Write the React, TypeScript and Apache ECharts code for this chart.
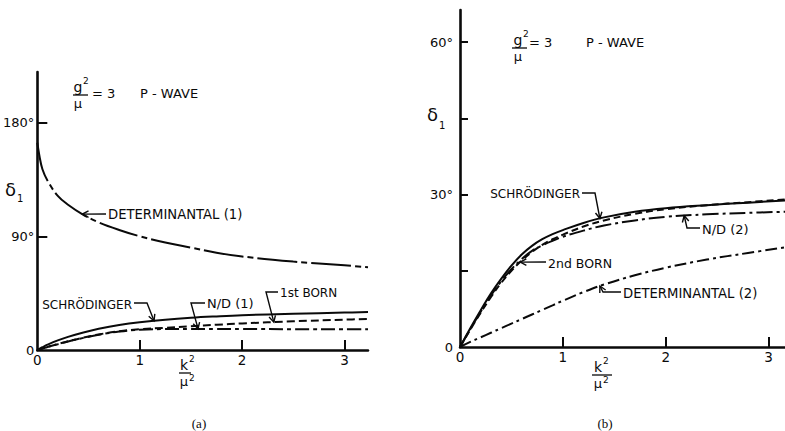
import React, { useEffect, useRef } from "react";
import * as echarts from "echarts";

// ---- Panel (a): g²/μ = 3, P-wave phase shift δ1 vs k²/μ² ----
const K_A = [0, 0.02, 0.05, 0.1, 0.2, 0.3, 0.45, 0.6, 0.8, 1.0, 1.25, 1.5, 1.75, 2.0, 2.5, 3.0, 3.23];
const DET1 = [164, 154, 143, 134, 122, 115, 107, 101, 95, 90, 85, 81, 77, 74, 70, 67, 65.5];
const SCHR_A = [0, 0.9, 2.2, 4.2, 7.6, 10.4, 13.9, 16.8, 19.8, 22.0, 24.0, 25.5, 26.6, 27.5, 28.7, 29.6, 30.0];
const BORN1 = [0, 0.5, 1.2, 2.4, 4.7, 6.9, 9.8, 12.3, 14.9, 16.4, 17.6, 18.8, 20.0, 21.0, 22.7, 24.0, 24.6];
const ND1 = [0, 0.5, 1.2, 2.4, 4.6, 6.8, 9.6, 12.1, 14.6, 16.0, 16.6, 16.7, 16.7, 16.6, 16.5, 16.4, 16.4];

// ---- Panel (b) ----
const K_B = [0, 0.1, 0.2, 0.3, 0.4, 0.5, 0.6, 0.7, 0.8, 0.9, 1.0, 1.2, 1.4, 1.7, 2.0, 2.4, 2.8, 3.16];
const SCHR_B = [0, 3.7, 7.2, 10.5, 13.4, 16.0, 18.2, 19.9, 21.2, 22.2, 23.0, 24.4, 25.5, 26.6, 27.3, 27.9, 28.4, 28.8];
const BORN2 = [0, 3.4, 6.7, 9.8, 12.6, 15.0, 17.0, 18.7, 20.1, 21.2, 22.1, 23.7, 24.9, 26.2, 27.1, 27.9, 28.5, 29.0];
const ND2 = [0, 3.5, 6.9, 10.1, 12.9, 15.3, 17.3, 18.9, 20.0, 20.9, 21.7, 22.9, 23.9, 24.9, 25.6, 26.1, 26.4, 26.6];
const DET2 = [0, 1.0, 1.9, 2.8, 3.7, 4.6, 5.5, 6.4, 7.3, 8.2, 9.1, 10.8, 12.3, 14.1, 15.6, 17.2, 18.5, 19.6];

// ---- Axis ticks and labels ----
const X_TICKS = [1, 2, 3];
const X_LABELS = [0, 1, 2, 3];
const Y_TICKS_A = [90, 180];
const Y_LABELS_A = [0, 90, 180];
const Y_TICKS_B = [15, 30, 45, 60];
const Y_LABELS_B = [0, 30, 60];

const INK = "#0a0a0a";
const FONT = "DejaVu Sans";

const pairs = (ks: number[], vs: number[]) => ks.map((k, i) => [k, vs[i]]);

const valueAt = (ks: number[], vs: number[], k: number) => {
  for (let i = 1; i < ks.length; i++) {
    if (k <= ks[i]) {
      const t = (k - ks[i - 1]) / (ks[i] - ks[i - 1]);
      return vs[i - 1] + t * (vs[i] - vs[i - 1]);
    }
  }
  return vs[vs.length - 1];
};

type Note = {
  grid: number;
  text: string;
  size: number;
  tx: number;
  ty: number;
  align: "left" | "right";
  path: number[][];
  tipK: number;
  ks: number[];
  vs: number[];
};

const NOTES: Note[] = [
  { grid: 0, text: "DETERMINANTAL (1)", size: 13.2, tx: 108, ty: 214, align: "left", path: [[106, 214]], tipK: 0.44, ks: K_A, vs: DET1 },
  { grid: 0, text: "SCHRÖDINGER", size: 12, tx: 132, ty: 305, align: "right", path: [[134, 303], [147, 303]], tipK: 1.14, ks: K_A, vs: SCHR_A },
  { grid: 0, text: "N/D (1)", size: 13, tx: 207, ty: 303, align: "left", path: [[205, 303], [191, 303]], tipK: 1.57, ks: K_A, vs: ND1 },
  { grid: 0, text: "1st BORN", size: 12, tx: 280, ty: 293, align: "left", path: [[278, 292], [266, 292]], tipK: 2.31, ks: K_A, vs: BORN1 },
  { grid: 1, text: "SCHRÖDINGER", size: 12, tx: 580, ty: 194, align: "right", path: [[582, 193], [595, 193]], tipK: 1.36, ks: K_B, vs: SCHR_B },
  { grid: 1, text: "N/D (2)", size: 13, tx: 702, ty: 229, align: "left", path: [[700, 228], [687, 228]], tipK: 2.18, ks: K_B, vs: ND2 },
  { grid: 1, text: "2nd BORN", size: 12.5, tx: 548, ty: 263, align: "left", path: [[546, 262]], tipK: 0.585, ks: K_B, vs: BORN2 },
  { grid: 1, text: "DETERMINANTAL (2)", size: 13.2, tx: 623, ty: 293, align: "left", path: [[621, 292], [603, 292]], tipK: 1.36, ks: K_B, vs: DET2 },
];

const txt = (text: string, x: number, y: number, size: number, align = "left", family = FONT) => ({
  type: "text",
  x,
  y,
  silent: true,
  style: { text, fill: INK, fontSize: size, fontFamily: family, textAlign: align, textVerticalAlign: "middle" },
});

const seg = (pts: number[][], w = 1.4) => ({
  type: "polyline",
  silent: true,
  shape: { points: pts },
  style: { stroke: INK, lineWidth: w, fill: "none" },
});

// Fraction-style labels: numerator with superscript, bar, denominator
const fraction = (cx: number, y: number, top: string, topSup: string, bottom: string, bottomSup: string, barL: number, barR: number) => {
  const out: any[] = [
    txt(top, cx, y, 14, "center"),
    txt(topSup, cx + 5, y - 6, 9, "left"),
    seg([[barL, y + 8], [barR, y + 8]], 1.3),
    txt(bottom, cx, y + 16, 13, "center"),
  ];
  if (bottomSup) out.push(txt(bottomSup, cx + 5, y + 13, 9, "left"));
  return out;
};

const xAxisCfg = (gridIndex: number, max: number) => ({
  gridIndex,
  type: "value",
  min: 0,
  max,
  axisLine: { onZero: false, lineStyle: { color: INK, width: 2.5 } },
  axisTick: { inside: true, length: 10, customValues: X_TICKS, lineStyle: { color: INK, width: 2 } },
  axisLabel: { customValues: X_LABELS, margin: 3, color: INK, fontSize: 13.5, fontFamily: FONT },
  splitLine: { show: false },
});

const yAxisCfg = (gridIndex: number, max: number, ticks: number[], labels: number[], margin: number, tickLen: number) => ({
  gridIndex,
  type: "value",
  min: 0,
  max,
  axisLine: { onZero: false, lineStyle: { color: INK, width: 2.6 } },
  axisTick: { inside: true, length: tickLen, customValues: ticks, lineStyle: { color: INK, width: 2 } },
  axisLabel: {
    customValues: labels,
    margin,
    color: INK,
    fontSize: 13,
    fontFamily: FONT,
    formatter: (v: number) => (v === 0 ? "0" : `${v}°`),
  },
  splitLine: { show: false },
});

const line = (name: string, axis: number, data: number[][], type: any) => ({
  name,
  type: "line",
  xAxisIndex: axis,
  yAxisIndex: axis,
  data,
  showSymbol: false,
  symbol: "none",
  smooth: 0.4,
  silent: true,
  lineStyle: { color: INK, width: 2, type },
});

export default function App() {
  const ref = useRef<HTMLDivElement>(null);

  useEffect(() => {
    if (!ref.current) return;
    const chart = echarts.init(ref.current, undefined, { renderer: "svg" });
    chart.setOption({
      animation: false,
      backgroundColor: "#ffffff",
      grid: [
        { left: 35, top: 72, width: 333, height: 278 },
        { left: 460, top: 10, width: 325, height: 337 },
      ],
      xAxis: [xAxisCfg(0, 3.23), xAxisCfg(1, 3.16)],
      yAxis: [yAxisCfg(0, 220, Y_TICKS_A, Y_LABELS_A, 3, 10), yAxisCfg(1, 66.3, Y_TICKS_B, Y_LABELS_B, 7, 8)],
      series: [
        line("DETERMINANTAL (1)", 0, pairs(K_A, DET1), [40, 4, 6, 4]),
        line("SCHRÖDINGER", 0, pairs(K_A, SCHR_A), "solid"),
        line("1st BORN", 0, pairs(K_A, BORN1), [8, 4]),
        line("N/D (1)", 0, pairs(K_A, ND1), [14, 4, 4, 4]),
        line("SCHRÖDINGER", 1, pairs(K_B, SCHR_B), "solid"),
        line("2nd BORN", 1, pairs(K_B, BORN2), [7, 4]),
        line("N/D (2)", 1, pairs(K_B, ND2), [16, 4, 3, 4]),
        line("DETERMINANTAL (2)", 1, pairs(K_B, DET2), [12, 4, 3, 4]),
      ],
    });

    const elements: any[] = [];
    // Leader lines with open arrowheads pointing at the curves
    NOTES.forEach((n) => {
      const tip = chart.convertToPixel({ gridIndex: n.grid }, [n.tipK, valueAt(n.ks, n.vs, n.tipK)]) as number[];
      const pts = [...n.path, tip];
      elements.push(seg(pts, 1.4));
      const prev = pts[pts.length - 2];
      const dx = tip[0] - prev[0];
      const dy = tip[1] - prev[1];
      const len = Math.hypot(dx, dy) || 1;
      const ux = dx / len;
      const uy = dy / len;
      const head = 7;
      const a = (28 * Math.PI) / 180;
      const rot = (s: number) => [
        tip[0] - head * (ux * Math.cos(s * a) - uy * Math.sin(s * a)),
        tip[1] - head * (ux * Math.sin(s * a) + uy * Math.cos(s * a)),
      ];
      elements.push(seg([rot(1), tip, rot(-1)], 1.4));
      elements.push(txt(n.text, n.tx, n.ty, n.size, n.align));
    });

    // Panel (a) headings
    elements.push(...fraction(78, 87, "g", "2", "μ", "", 73, 88));
    elements.push(txt("= 3", 92, 93, 13));
    elements.push(txt("P - WAVE", 140, 93, 13));
    elements.push(txt("δ", 16, 189, 18, "right"));
    elements.push(txt("1", 17, 198, 10, "left"));
    elements.push(...fraction(184, 365, "k", "2", "μ", "2", 179, 191));
    elements.push(txt("(a)", 199, 423, 13, "center", "Liberation Serif"));

    // Panel (b) headings
    elements.push(...fraction(518, 40, "g", "2", "μ", "", 512, 527));
    elements.push(txt("= 3", 529, 42, 13));
    elements.push(txt("P - WAVE", 586, 42, 13));
    elements.push(txt("δ", 438, 114, 18, "right"));
    elements.push(txt("1", 439, 125, 10, "left"));
    elements.push(...fraction(598, 367, "k", "2", "μ", "2", 592, 612));
    elements.push(txt("(b)", 605, 423, 13, "center", "Liberation Serif"));

    chart.setOption({ graphic: { elements } });

    return () => chart.dispose();
  }, []);

  return (
    <div
      ref={ref}
      style={{ position: "absolute", left: 0, top: 0, width: 785, height: 431, background: "#fff" }}
    />
  );
}
